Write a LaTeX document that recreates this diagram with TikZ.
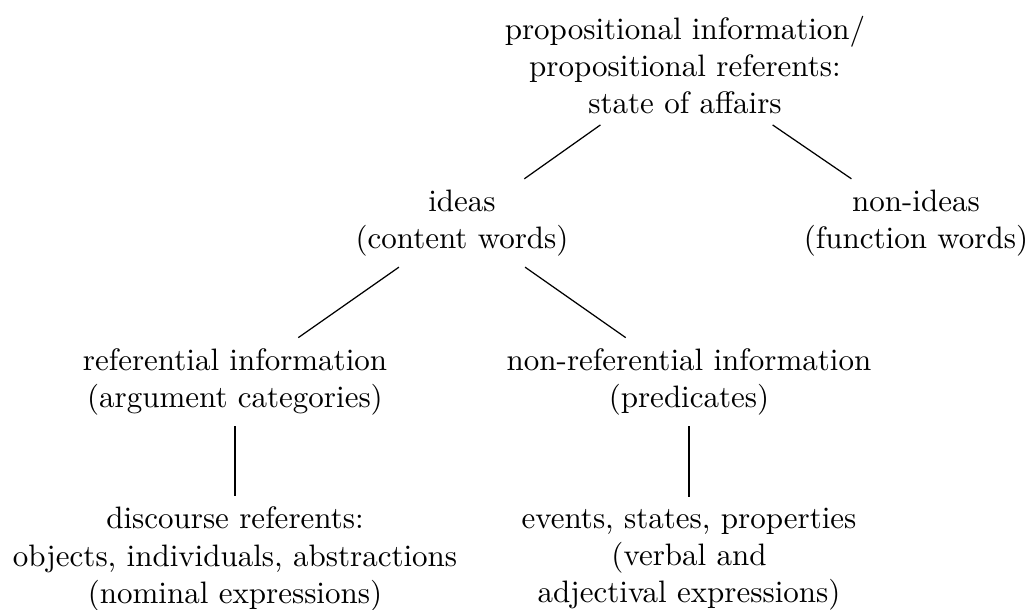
\documentclass[tikz,border=0pt]{standalone}
\begin{document}
\begin{tikzpicture}[x=0.32258pt,y=-0.32258pt,
  tnode/.style={align=center},
  edge/.style={draw=black, line width=0.4pt}]
\useasboundingbox (0,0) rectangle (1027,610);
\node[tnode] (root) at (685,65) {propositional information/\\propositional referents:\\state of affairs};
\node[tnode] (ideas) at (462,223) {ideas\\(content words)};
\node[tnode] (nonideas) at (916,223) {non-ideas\\(function words)};
\node[tnode] (ref) at (235,382) {referential information\\(argument categories)};
\node[tnode] (nonref) at (689,382) {non-referential information\\(predicates)};
\node[tnode] (disc) at (235,559) {discourse referents:\\objects, individuals, abstractions\\(nominal expressions)};
\node[tnode] (events) at (689,559) {events, states, properties\\(verbal and\\adjectival expressions)};
\draw[edge] (root) -- (ideas);
\draw[edge] (root) -- (nonideas);
\draw[edge] (ideas) -- (ref);
\draw[edge] (ideas) -- (nonref);
\draw[edge] (ref) -- (disc);
\draw[edge] (nonref) -- (events);
\end{tikzpicture}
\end{document}
